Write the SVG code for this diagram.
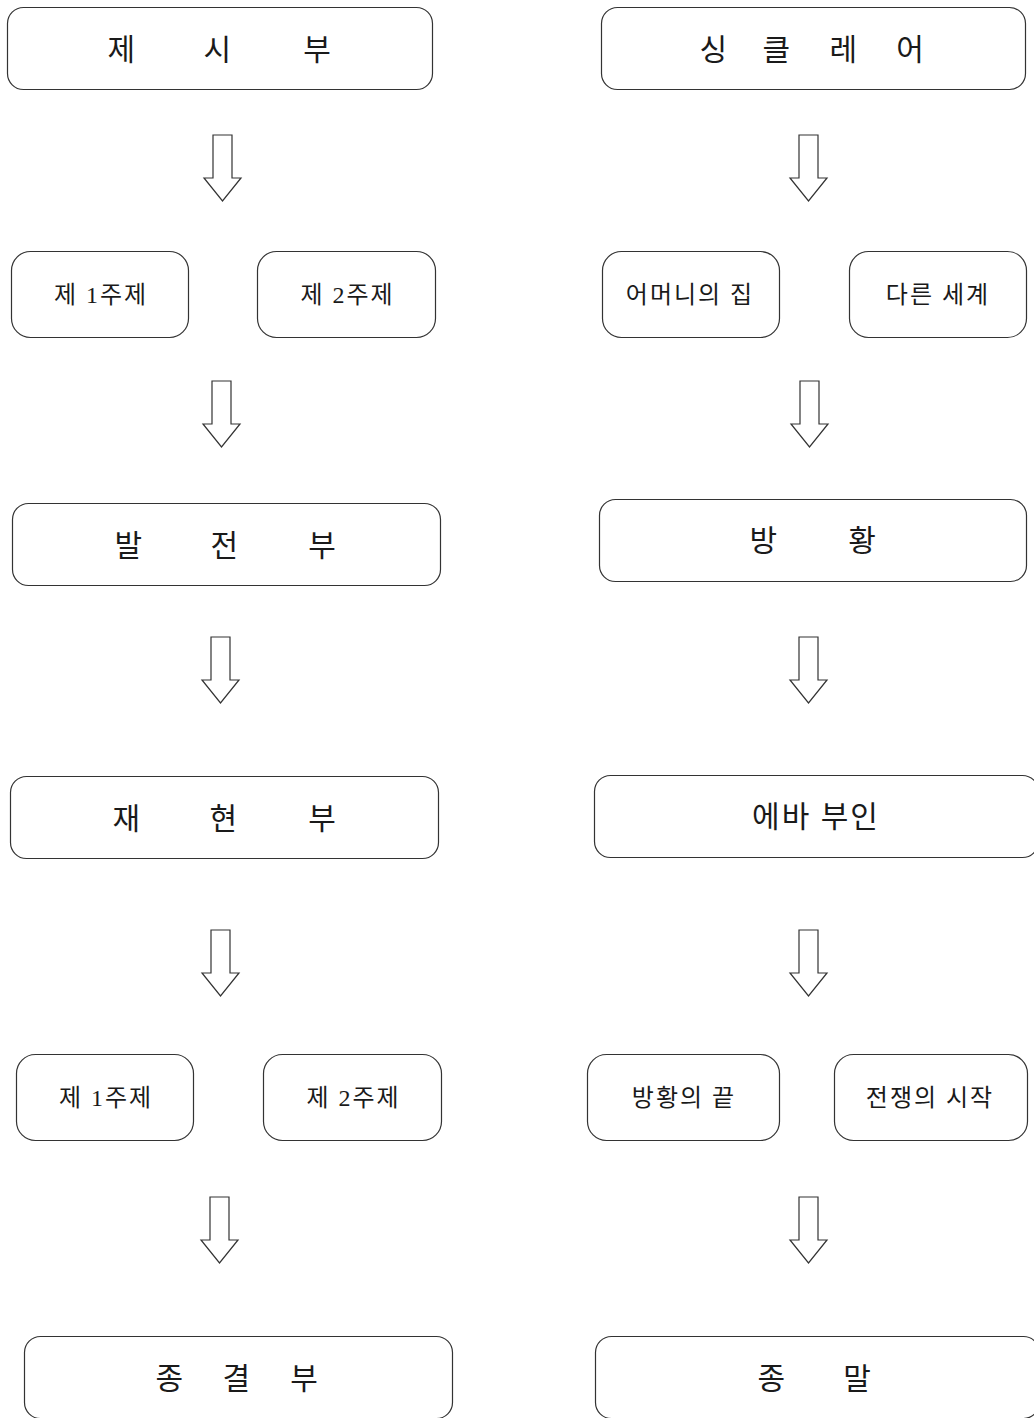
<svg xmlns="http://www.w3.org/2000/svg" width="1034" height="1418" viewBox="0 0 1034 1418">
<style>
  .box { fill: #ffffff; stroke: #333333; stroke-width: 1.2; }
  .arrow { fill: #ffffff; stroke: #333333; stroke-width: 1.2; stroke-linejoin: miter; }
  .big { font-family: "Liberation Serif", "Noto Sans CJK KR", serif; font-size: 30px; fill: #1a1a1a; text-anchor: middle; dominant-baseline: central; }
  .small { font-family: "Liberation Serif", "Noto Sans CJK KR", serif; font-size: 24px; fill: #1a1a1a; text-anchor: middle; dominant-baseline: central; letter-spacing: 2px; }
  .mid { font-family: "Liberation Serif", "Noto Sans CJK KR", serif; font-size: 30px; fill: #1a1a1a; text-anchor: middle; dominant-baseline: central; letter-spacing: 2px; }
</style>
<defs>
  <path id="downArrow" class="arrow" d="M -9.5 0 L 9.5 0 L 9.5 43 L 18.5 43 L 0 66 L -18.5 43 L -9.5 43 Z"/>
</defs>
<rect width="1034" height="1418" fill="#ffffff"/>

<!-- Left column -->
<g id="n-jesibu">
  <rect class="box" x="7.5" y="7.5" width="425" height="82" rx="16"/>
  <text class="big" y="49"><tspan x="125">제</tspan> <tspan x="221">시</tspan> <tspan x="317">부</tspan></text>
</g>
<g id="n-theme1-a">
  <rect class="box" x="11.5" y="251.5" width="177" height="86" rx="19"/>
  <text class="small" x="101" y="295">제 1주제</text>
</g>
<g id="n-theme2-a">
  <rect class="box" x="257.5" y="251.5" width="178" height="86" rx="19"/>
  <text class="small" x="347.5" y="295">제 2주제</text>
</g>
<g id="n-baljeonbu">
  <rect class="box" x="12.5" y="503.5" width="428" height="82" rx="16"/>
  <text class="big" y="545"><tspan x="132">발</tspan> <tspan x="228">전</tspan> <tspan x="322">부</tspan></text>
</g>
<g id="n-jaehyeonbu">
  <rect class="box" x="10.5" y="776.5" width="428" height="82" rx="16"/>
  <text class="big" y="818"><tspan x="130">재</tspan> <tspan x="227">현</tspan> <tspan x="322">부</tspan></text>
</g>
<g id="n-theme1-b">
  <rect class="box" x="16.5" y="1054.5" width="177" height="86" rx="19"/>
  <text class="small" x="106" y="1098">제 1주제</text>
</g>
<g id="n-theme2-b">
  <rect class="box" x="263.5" y="1054.5" width="178" height="86" rx="19"/>
  <text class="small" x="353.5" y="1098">제 2주제</text>
</g>
<g id="n-jonggyeolbu">
  <rect class="box" x="24.5" y="1336.5" width="428" height="82" rx="16"/>
  <text class="big" y="1378"><tspan x="173">종</tspan> <tspan x="240">결</tspan> <tspan x="304">부</tspan></text>
</g>

<!-- Right column -->
<g id="n-singlair">
  <rect class="box" x="601.5" y="7.5" width="424" height="82" rx="16"/>
  <text class="big" y="49"><tspan x="717">싱</tspan> <tspan x="780">클</tspan> <tspan x="847">레</tspan> <tspan x="910">어</tspan></text>
</g>
<g id="n-mother-house">
  <rect class="box" x="602.5" y="251.5" width="177" height="86" rx="19"/>
  <text class="small" x="690" y="295">어머니의 집</text>
</g>
<g id="n-other-world">
  <rect class="box" x="849.5" y="251.5" width="177" height="86" rx="19"/>
  <text class="small" x="938" y="295">다른 세계</text>
</g>
<g id="n-banghwang">
  <rect class="box" x="599.5" y="499.5" width="427" height="82" rx="16"/>
  <text class="big" y="540"><tspan x="767">방</tspan> <tspan x="862">황</tspan></text>
</g>
<g id="n-eva">
  <rect class="box" x="594.5" y="775.5" width="444" height="82" rx="16"/>
  <text class="mid" x="816" y="816">에바 부인</text>
</g>
<g id="n-wander-end">
  <rect class="box" x="587.5" y="1054.5" width="192" height="86" rx="19"/>
  <text class="small" x="684" y="1098">방황의 끝</text>
</g>
<g id="n-war-start">
  <rect class="box" x="834.5" y="1054.5" width="193" height="86" rx="19"/>
  <text class="small" x="930" y="1098">전쟁의 시작</text>
</g>
<g id="n-jongmal">
  <rect class="box" x="595.5" y="1336.5" width="444" height="82" rx="16"/>
  <text class="big" y="1378"><tspan x="775">종</tspan> <tspan x="857">말</tspan></text>
</g>

<!-- Connectors -->
<g id="connectors">
  <use href="#downArrow" x="222.5" y="135"/>
  <use href="#downArrow" x="221.5" y="381"/>
  <use href="#downArrow" x="220.5" y="637"/>
  <use href="#downArrow" x="220.5" y="930"/>
  <use href="#downArrow" x="219.5" y="1197"/>
  <use href="#downArrow" x="808.5" y="135"/>
  <use href="#downArrow" x="809.5" y="381"/>
  <use href="#downArrow" x="808.5" y="637"/>
  <use href="#downArrow" x="808.5" y="930"/>
  <use href="#downArrow" x="808.5" y="1197"/>
</g>
</svg>
